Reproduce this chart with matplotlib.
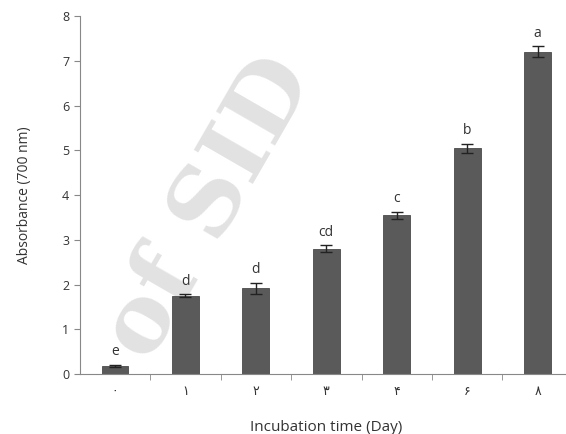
import numpy as np
import matplotlib.pyplot as plt

# incubation days (Persian digits on the axis)
days = ['۰', '۱', '۲', '۳', '۴', '۶', '۸']
absorbance = [0.18, 1.75, 1.92, 2.80, 3.55, 5.05, 7.20]
errors = [0.03, 0.03, 0.12, 0.08, 0.08, 0.10, 0.12]
letters = ['e', 'd', 'd', 'cd', 'c', 'b', 'a']

plt.rcParams['font.family'] = ['Open Sans', 'DejaVu Sans']

fig = plt.figure(figsize=(5.66, 4.34), dpi=100)
ax = fig.add_axes([0.141, 0.138, 0.871, 0.825])

x = np.arange(len(days))
ax.bar(x, absorbance, width=0.38, color='#5a5a5a', edgecolor='#4a4a4a',
       linewidth=0.6, zorder=2)
ax.errorbar(x, absorbance, yerr=errors, fmt='none', ecolor='#222222',
            elinewidth=1.0, capsize=4, capthick=1.0, zorder=3)

for xi, v, e, l in zip(x, absorbance, errors, letters):
    ax.text(xi, v + e + 0.12, l, ha='center', va='bottom', fontsize=10,
            color='#333333', zorder=4)

# watermark
fig.text(0.37, 0.52, 'of SID', fontsize=68, color='#e2e2e2', rotation=60,
         ha='center', va='center', family='DejaVu Serif', fontweight='bold',
         zorder=0)
ax.set_zorder(1)
ax.patch.set_alpha(0)

ax.set_xlim(-0.5, len(days) - 0.5)
ax.set_ylim(0, 8)
ax.set_yticks(range(0, 9))
ax.set_xticks(x)
ax.set_xticklabels(days, fontsize=9, family=['DejaVu Sans'])
ax.set_xticks(np.arange(0.5, len(days) - 0.5, 1), minor=True)
ax.tick_params(axis='x', which='major', length=0, pad=8, colors='#333333')
ax.tick_params(axis='x', which='minor', length=4, color='#888888', direction='out')
ax.tick_params(axis='y', length=4, color='#888888', labelsize=9,
               labelcolor='#333333', direction='out')

for s in ['top', 'right']:
    ax.spines[s].set_visible(False)
for s in ['left', 'bottom']:
    ax.spines[s].set_color('#888888')

ax.set_xlabel('Incubation time (Day)', fontsize=11, color='#333333', labelpad=16)
ax.set_ylabel('Absorbance (700 nm)', fontsize=10, color='#333333', labelpad=22)

plt.savefig('out.png', dpi=100)
